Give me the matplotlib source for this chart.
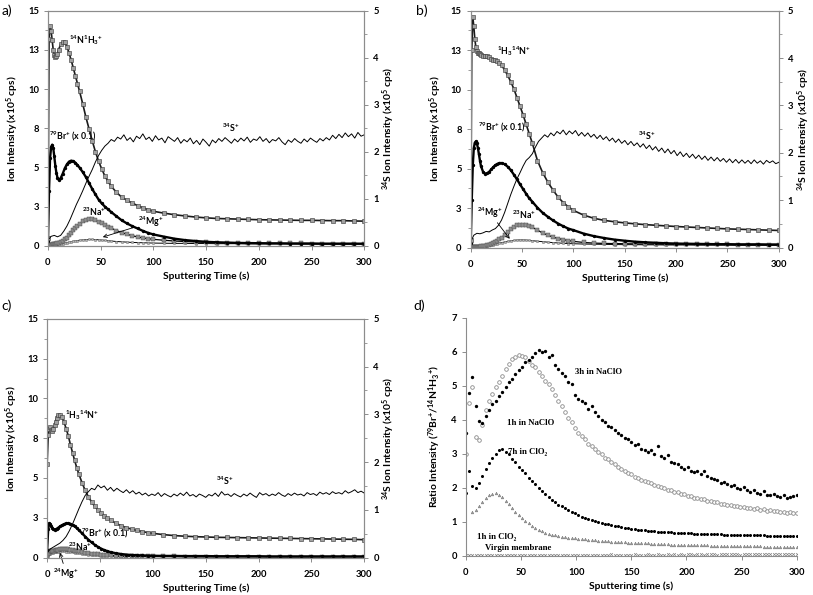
import matplotlib
matplotlib.use("Agg")
import matplotlib.pyplot as plt

plt.rcParams["font.family"] = ["Lato", "DejaVu Sans"]
plt.rcParams["mathtext.fontset"] = "custom"
plt.rcParams["mathtext.rm"] = "Lato:bold"
plt.rcParams["mathtext.it"] = "Lato:bold"
plt.rcParams["mathtext.bf"] = "Lato:bold"
plt.rcParams["mathtext.default"] = "rm"

# ── sampling times (s) ──────────────────────────────────────────────────────
T = [0, 1, 2, 3, 4, 5, 6, 7, 8, 9, 10, 12, 14, 16, 18, 20, 22, 24, 26, 28, 30,
     33, 36, 39, 42, 45, 48, 51, 54, 57, 60, 65, 70, 75, 80, 85, 90, 95, 100,
     110, 120, 130, 140, 150, 160, 170, 180, 190, 200, 210, 220, 230, 240, 250,
     260, 270, 280, 290, 300]
T3 = list(range(0, 301, 3))
T3_CLO2 = list(range(6, 301, 3))

# ── panel a (x1e5 cps) ──────────────────────────────────────────────────────
a_nh3 = [0.5, 13.2, 14.0, 13.7, 13.1, 12.5, 12.2, 12.05, 12.1, 12.25, 12.5,
         12.85, 13.0, 12.98, 12.7, 12.3, 11.85, 11.35, 10.85, 10.35, 9.85,
         9.05, 8.2, 7.45, 6.7, 6.0, 5.4, 4.9, 4.45, 4.1, 3.8,
         3.4, 3.1, 2.9, 2.72, 2.56, 2.42, 2.3, 2.2,
         2.08, 1.98, 1.9, 1.83, 1.78, 1.74, 1.72, 1.7, 1.68, 1.66, 1.65, 1.64,
         1.63, 1.62, 1.62, 1.61, 1.6, 1.6, 1.58, 1.57]
a_br = [0.3, 3.5, 5.6, 6.3, 6.45, 6.25, 5.7, 5.1, 4.65, 4.35, 4.22,
        4.3, 4.6, 4.95, 5.2, 5.37, 5.43, 5.4, 5.3, 5.15, 4.98,
        4.7, 4.38, 4.0, 3.62, 3.28, 2.95, 2.7, 2.5, 2.32, 2.15,
        1.88, 1.62, 1.42, 1.25, 1.1, 0.95, 0.82, 0.72,
        0.58, 0.45, 0.36, 0.3, 0.25, 0.22, 0.2, 0.18, 0.17, 0.16, 0.15, 0.15,
        0.14, 0.14, 0.14, 0.13, 0.13, 0.13, 0.13, 0.13]
a_na = [0.03, 0.04, 0.05, 0.06, 0.07, 0.08, 0.1, 0.11, 0.13, 0.15, 0.17,
        0.22, 0.3, 0.4, 0.52, 0.66, 0.82, 0.98, 1.13, 1.28, 1.4,
        1.55, 1.65, 1.7, 1.68, 1.62, 1.52, 1.42, 1.32, 1.22, 1.12,
        0.97, 0.84, 0.73, 0.64, 0.56, 0.5, 0.45, 0.41,
        0.35, 0.3, 0.27, 0.24, 0.22, 0.2, 0.19, 0.18, 0.17, 0.16, 0.16, 0.15,
        0.15, 0.15, 0.14, 0.14, 0.14, 0.14, 0.14, 0.13]
a_mg = [0.02, 0.02, 0.03, 0.03, 0.04, 0.04, 0.05, 0.06, 0.07, 0.08, 0.09,
        0.11, 0.14, 0.17, 0.2, 0.23, 0.26, 0.29, 0.31, 0.33, 0.35,
        0.37, 0.39, 0.4, 0.4, 0.39, 0.38, 0.36, 0.34, 0.32, 0.3,
        0.27, 0.25, 0.23, 0.21, 0.2, 0.19, 0.18, 0.17,
        0.16, 0.15, 0.15, 0.14, 0.14, 0.13, 0.13, 0.13, 0.12, 0.12, 0.12, 0.12,
        0.12, 0.11, 0.11, 0.11, 0.11, 0.11, 0.11, 0.11]
a_s34 = [0.12, 0.20, 0.22, 0.19, 0.22, 0.31, 0.42, 0.56, 0.72, 0.88,
         1.02, 1.17, 1.33, 1.48, 1.62, 1.78, 1.92, 2.03, 2.12, 2.18,
         2.26, 2.22, 2.31, 2.27, 2.36, 2.24, 2.30, 2.21, 2.33, 2.28,
         2.38, 2.26, 2.31, 2.22, 2.34, 2.25, 2.29, 2.19, 2.32, 2.27,
         2.22, 2.30, 2.18, 2.26, 2.21, 2.29, 2.17, 2.24, 2.15, 2.27,
         2.20, 2.12, 2.25, 2.19, 2.28, 2.22, 2.30, 2.24, 2.18, 2.27,
         2.21, 2.29, 2.23, 2.31, 2.20, 2.27, 2.24, 2.32, 2.22, 2.28,
         2.19, 2.26, 2.23, 2.30, 2.21, 2.15, 2.25, 2.20, 2.28, 2.22,
         2.18, 2.27, 2.21, 2.29, 2.24, 2.20, 2.28, 2.23, 2.30, 2.25,
         2.35, 2.28, 2.37, 2.30, 2.40, 2.32, 2.38, 2.29, 2.41, 2.33,
         2.36]

# ── panel b ─────────────────────────────────────────────────────────────────
b_nh3 = [0.5, 12.5, 14.6, 14.0, 13.2, 12.7, 12.45, 12.35, 12.3, 12.25, 12.2,
         12.15, 12.1, 12.1, 12.05, 11.95, 11.9, 11.85, 11.8, 11.7, 11.55,
         11.25, 10.9, 10.5, 10.05, 9.5, 8.95, 8.4, 7.8, 7.2, 6.6,
         5.5, 4.75, 4.15, 3.65, 3.2, 2.85, 2.58, 2.35,
         2.05, 1.85, 1.72, 1.63, 1.56, 1.5, 1.45, 1.41, 1.37, 1.33, 1.3, 1.27,
         1.24, 1.21, 1.18, 1.16, 1.14, 1.12, 1.1, 1.08]
b_br = [0.3, 3.0, 5.2, 6.3, 6.65, 6.72, 6.6, 6.3, 5.9, 5.5, 5.15,
        4.8, 4.68, 4.7, 4.8, 4.95, 5.1, 5.22, 5.3, 5.35, 5.35,
        5.28, 5.12, 4.9, 4.62, 4.32, 4.0, 3.7, 3.4, 3.12, 2.9,
        2.52, 2.2, 1.95, 1.72, 1.52, 1.35, 1.2, 1.1,
        0.88, 0.72, 0.6, 0.5, 0.43, 0.37, 0.33, 0.3, 0.27, 0.25, 0.24, 0.23,
        0.22, 0.21, 0.21, 0.2, 0.2, 0.2, 0.19, 0.19]
b_na = [0.02, 0.02, 0.03, 0.03, 0.03, 0.04, 0.04, 0.05, 0.05, 0.06, 0.07,
        0.09, 0.11, 0.14, 0.18, 0.23, 0.29, 0.36, 0.44, 0.53, 0.63,
        0.8, 0.98, 1.15, 1.3, 1.4, 1.45, 1.45, 1.42, 1.36, 1.28,
        1.1, 0.92, 0.78, 0.66, 0.57, 0.5, 0.44, 0.39,
        0.32, 0.28, 0.26, 0.25, 0.24, 0.23, 0.22, 0.22, 0.21, 0.21, 0.21, 0.2,
        0.2, 0.2, 0.2, 0.19, 0.19, 0.19, 0.19, 0.19]
b_mg = [0.02, 0.02, 0.02, 0.03, 0.03, 0.03, 0.04, 0.04, 0.05, 0.05, 0.06,
        0.07, 0.09, 0.11, 0.13, 0.16, 0.19, 0.22, 0.25, 0.28, 0.31,
        0.35, 0.39, 0.42, 0.45, 0.47, 0.48, 0.48, 0.47, 0.45, 0.43,
        0.4, 0.37, 0.34, 0.31, 0.29, 0.27, 0.25, 0.24,
        0.22, 0.21, 0.2, 0.19, 0.18, 0.18, 0.17, 0.17, 0.16, 0.16, 0.16, 0.15,
        0.15, 0.15, 0.15, 0.14, 0.14, 0.14, 0.14, 0.14]
b_s34 = [0.12, 0.26, 0.30, 0.29, 0.31, 0.34, 0.33, 0.37, 0.40, 0.47,
         0.58, 0.74, 0.93, 1.12, 1.29, 1.45, 1.58, 1.72, 1.84, 1.90,
         1.98, 2.12, 2.24, 2.31, 2.38, 2.33, 2.42, 2.36, 2.45, 2.40,
         2.48, 2.38, 2.46, 2.40, 2.47, 2.36, 2.43, 2.35, 2.42, 2.33,
         2.39, 2.30, 2.37, 2.28, 2.34, 2.25, 2.31, 2.22, 2.29, 2.20,
         2.26, 2.17, 2.24, 2.15, 2.21, 2.12, 2.19, 2.09, 2.16, 2.06,
         2.13, 2.03, 2.10, 2.00, 2.08, 1.98, 2.05, 1.94, 2.02, 1.92,
         1.99, 1.90, 1.97, 1.88, 1.95, 1.86, 1.93, 1.84, 1.91, 1.83,
         1.90, 1.82, 1.88, 1.80, 1.87, 1.79, 1.86, 1.78, 1.85, 1.78,
         1.84, 1.77, 1.85, 1.78, 1.83, 1.76, 1.84, 1.79, 1.83, 1.77,
         1.80]

# ── panel c ─────────────────────────────────────────────────────────────────
c_nh3 = [5.9, 7.7, 8.1, 8.2, 8.0, 7.95, 8.05, 8.3, 8.55, 8.8, 8.95,
         8.98, 8.85, 8.5, 8.1, 7.65, 7.1, 6.6, 6.1, 5.65, 5.25,
         4.7, 4.22, 3.82, 3.5, 3.22, 3.0, 2.8, 2.62, 2.47, 2.35,
         2.15, 2.0, 1.88, 1.78, 1.7, 1.63, 1.57, 1.52,
         1.44, 1.38, 1.34, 1.31, 1.29, 1.27, 1.26, 1.25, 1.24, 1.23, 1.22, 1.21,
         1.2, 1.19, 1.18, 1.17, 1.16, 1.15, 1.14, 1.12]
c_br = [0.5, 1.8, 2.15, 2.1, 1.95, 1.85, 1.78, 1.75, 1.77, 1.8, 1.85,
        1.95, 2.03, 2.1, 2.14, 2.15, 2.12, 2.05, 1.96, 1.85, 1.72,
        1.52, 1.32, 1.12, 0.95, 0.8, 0.67, 0.56, 0.47, 0.4, 0.34,
        0.27, 0.22, 0.18, 0.16, 0.14, 0.13, 0.12, 0.11,
        0.1, 0.1, 0.09, 0.09, 0.09, 0.08, 0.08, 0.08, 0.08, 0.08, 0.07, 0.07,
        0.07, 0.07, 0.07, 0.07, 0.07, 0.07, 0.07, 0.07]
c_na = [0.1, 0.2, 0.3, 0.38, 0.42, 0.43, 0.43, 0.44, 0.45, 0.47, 0.49,
        0.52, 0.54, 0.55, 0.55, 0.53, 0.5, 0.47, 0.44, 0.41, 0.38,
        0.34, 0.3, 0.27, 0.24, 0.21, 0.19, 0.17, 0.15, 0.14, 0.13,
        0.11, 0.1, 0.09, 0.09, 0.08, 0.08, 0.08, 0.07,
        0.07, 0.07, 0.06, 0.06, 0.06, 0.06, 0.06, 0.06, 0.06, 0.06, 0.05, 0.05,
        0.05, 0.05, 0.05, 0.05, 0.05, 0.05, 0.05, 0.05]
c_mg = [0.05, 0.12, 0.2, 0.25, 0.28, 0.3, 0.31, 0.32, 0.33, 0.34, 0.35,
        0.37, 0.38, 0.38, 0.37, 0.36, 0.34, 0.32, 0.3, 0.28, 0.26,
        0.23, 0.2, 0.18, 0.16, 0.14, 0.13, 0.12, 0.11, 0.1, 0.09,
        0.08, 0.07, 0.07, 0.06, 0.06, 0.06, 0.05, 0.05,
        0.05, 0.05, 0.05, 0.04, 0.04, 0.04, 0.04, 0.04, 0.04, 0.04, 0.04, 0.04,
        0.04, 0.04, 0.04, 0.04, 0.04, 0.04, 0.04, 0.04]
c_s34 = [0.10, 0.18, 0.22, 0.26, 0.30, 0.36, 0.44, 0.56, 0.70, 0.86,
         1.02, 1.17, 1.30, 1.38, 1.45, 1.42, 1.52, 1.46, 1.50, 1.41,
         1.47, 1.39, 1.45, 1.40, 1.36, 1.42, 1.35, 1.40, 1.33, 1.37,
         1.31, 1.35, 1.29, 1.33, 1.30, 1.36, 1.28, 1.34, 1.30, 1.27,
         1.33, 1.29, 1.35, 1.30, 1.37, 1.29, 1.32, 1.27, 1.33, 1.30,
         1.26, 1.32, 1.29, 1.35, 1.28, 1.38, 1.31, 1.33, 1.28, 1.34,
         1.30, 1.27, 1.33, 1.29, 1.35, 1.30, 1.26, 1.36, 1.31, 1.34,
         1.29, 1.33, 1.30, 1.36, 1.31, 1.28, 1.34, 1.30, 1.35, 1.31,
         1.33, 1.29, 1.36, 1.32, 1.34, 1.30, 1.37, 1.33, 1.36, 1.32,
         1.38, 1.34, 1.36, 1.33, 1.40, 1.35, 1.38, 1.42, 1.36, 1.39,
         1.35]

# ── panel d: 79Br+/14N1H3+ ratio ────────────────────────────────────────────
d_3h_naclo = [3.6, 4.8, 5.25, 4.4, 3.95, 3.9, 4.1, 4.3, 4.45, 4.55,
              4.7, 4.82, 4.95, 5.1, 5.2, 5.35, 5.45, 5.55, 5.7, 5.75,
              5.85, 5.95, 6.05, 5.98, 6.02, 5.85, 5.9, 5.62, 5.5, 5.38,
              5.3, 5.12, 5.05, 4.72, 4.6, 4.55, 4.48, 4.32, 4.4, 4.22,
              4.1, 4.0, 3.92, 3.82, 3.78, 3.7, 3.62, 3.55, 3.45, 3.42,
              3.35, 3.25, 3.3, 3.15, 3.12, 3.05, 3.1, 2.98, 3.22, 2.92,
              2.88, 2.95, 2.75, 2.72, 2.7, 2.6, 2.55, 2.62, 2.5, 2.45,
              2.48, 2.4, 2.5, 2.35, 2.3, 2.25, 2.22, 2.15, 2.18, 2.1,
              2.05, 2.08, 1.98, 1.95, 2.02, 1.92, 1.88, 1.92, 1.85, 1.82,
              1.9, 1.8, 1.78, 1.83, 1.75, 1.72, 1.78, 1.7, 1.73, 1.76,
              1.8]
d_1h_naclo = [3.0, 4.5, 4.95, 3.5, 3.4, 3.85, 4.3, 4.55, 4.75, 4.95,
              5.12, 5.3, 5.5, 5.65, 5.8, 5.85, 5.9, 5.88, 5.85, 5.72,
              5.62, 5.55, 5.4, 5.3, 5.15, 5.05, 4.9, 4.72, 4.55, 4.4,
              4.22, 4.05, 3.92, 3.75, 3.62, 3.52, 3.42, 3.3, 3.24, 3.13,
              3.05, 2.99, 2.88, 2.84, 2.75, 2.71, 2.6, 2.56, 2.5, 2.44,
              2.4, 2.33, 2.29, 2.24, 2.21, 2.16, 2.13, 2.08, 2.06, 2.01,
              1.99, 1.94, 1.93, 1.88, 1.87, 1.82, 1.81, 1.77, 1.77, 1.71,
              1.71, 1.67, 1.67, 1.61, 1.61, 1.57, 1.57, 1.53, 1.53, 1.49,
              1.5, 1.47, 1.47, 1.44, 1.44, 1.41, 1.41, 1.37, 1.39, 1.35,
              1.36, 1.33, 1.34, 1.31, 1.31, 1.29, 1.3, 1.27, 1.28, 1.26,
              1.27]
d_7h_clo2 = [1.85, 2.5, 2.05, 2.0, 2.15, 2.35, 2.55, 2.72, 2.88, 3.0,
             3.12, 3.15, 3.05, 2.98, 2.85, 2.75, 2.62, 2.52, 2.42, 2.3,
             2.2, 2.1, 2.0, 1.9, 1.82, 1.72, 1.65, 1.58, 1.5, 1.45,
             1.4, 1.35, 1.3, 1.25, 1.2, 1.15, 1.12, 1.08, 1.05, 1.02,
             0.98, 0.96, 0.93, 0.92, 0.9, 0.88, 0.86, 0.84, 0.82, 0.81,
             0.8, 0.78, 0.77, 0.76, 0.75, 0.74, 0.73, 0.72, 0.71, 0.71,
             0.7, 0.69, 0.69, 0.68, 0.68, 0.67, 0.67, 0.66, 0.66, 0.65,
             0.65, 0.65, 0.64, 0.64, 0.64, 0.63, 0.63, 0.63, 0.62, 0.62,
             0.62, 0.62, 0.61, 0.61, 0.61, 0.61, 0.6, 0.6, 0.6, 0.6,
             0.6, 0.59, 0.59, 0.59, 0.59, 0.58, 0.58, 0.58, 0.58, 0.57,
             0.57]
d_1h_clo2 = [1.3, 1.35, 1.45, 1.58, 1.7, 1.78, 1.83, 1.85, 1.8, 1.72,
             1.62, 1.52, 1.4, 1.3, 1.2, 1.1, 1.02, 0.95, 0.88, 0.82,
             0.77, 0.72, 0.68, 0.65, 0.62, 0.6, 0.58, 0.56, 0.54, 0.53,
             0.52, 0.51, 0.5, 0.49, 0.48, 0.47, 0.46, 0.45, 0.44, 0.43,
             0.42, 0.42, 0.41, 0.4, 0.4, 0.39, 0.39, 0.38, 0.38, 0.37,
             0.37, 0.37, 0.36, 0.36, 0.35, 0.35, 0.35, 0.34, 0.34, 0.34,
             0.33, 0.33, 0.33, 0.33, 0.32, 0.32, 0.32, 0.32, 0.31, 0.31,
             0.31, 0.31, 0.3, 0.3, 0.3, 0.3, 0.3, 0.29, 0.29, 0.29,
             0.29, 0.29, 0.28, 0.28, 0.28, 0.28, 0.28, 0.28, 0.27, 0.27,
             0.27, 0.27, 0.27, 0.27, 0.26, 0.26, 0.26, 0.26, 0.26]
d_virgin = [0.02, 0.03, 0.02, 0.03, 0.03, 0.02, 0.03, 0.03, 0.02, 0.03,
            0.03, 0.02, 0.03, 0.03, 0.03, 0.02, 0.03, 0.03, 0.03, 0.02,
            0.03, 0.03, 0.02, 0.03, 0.03, 0.03, 0.03, 0.02, 0.03, 0.03,
            0.03, 0.03, 0.03, 0.02, 0.03, 0.03, 0.03, 0.03, 0.03, 0.03,
            0.03, 0.03, 0.03, 0.03, 0.04, 0.03, 0.03, 0.03, 0.03, 0.03,
            0.03, 0.04, 0.03, 0.03, 0.03, 0.04, 0.03, 0.03, 0.04, 0.03,
            0.03, 0.04, 0.03, 0.04, 0.03, 0.04, 0.03, 0.04, 0.04, 0.03,
            0.04, 0.04, 0.03, 0.04, 0.04, 0.04, 0.03, 0.04, 0.04, 0.04,
            0.04, 0.04, 0.04, 0.03, 0.04, 0.04, 0.04, 0.04, 0.04, 0.04,
            0.04, 0.04, 0.04, 0.04, 0.04, 0.04, 0.04, 0.04, 0.04, 0.04,
            0.04]

X_TICKS = [0, 50, 100, 150, 200, 250, 300]
ION_TICKS = [0, 2.5, 5, 7.5, 10, 12.5, 15]
ION_TICKLABELS = ["0", "3", "5", "8", "10", "13", "15"]
S_TICKS = [0, 1, 2, 3, 4, 5]
RATIO_TICKS = [0, 1, 2, 3, 4, 5, 6, 7]

SPINE_C = "#8c8c8c"
TICK_FS = 6.8
LABEL_FS = 7.4


def style_axis(ax, ticks_y, labels_y=None):
    ax.set_xlim(0, 300)
    ax.set_xticks(X_TICKS)
    ax.set_yticks(ticks_y)
    if labels_y is not None:
        ax.set_yticklabels(labels_y)
    for lab in ax.get_xticklabels() + ax.get_yticklabels():
        lab.set_fontweight("bold")
    ax.tick_params(which="major", direction="out", length=3, width=0.7,
                   color=SPINE_C, labelsize=TICK_FS)
    ax.tick_params(axis="x", pad=6)
    for sp in ax.spines.values():
        sp.set_color(SPINE_C)
        sp.set_linewidth(0.8)


def ion_panel(ax, nh3, br, na, mg, s34):
    ax.plot(T, mg, color="black", lw=0.7, marker="o", ms=1.8,
            mfc="#b5b5b5", mec="#6e6e6e", mew=0.3, zorder=2)
    ax.plot(T, na, color="black", lw=0.9, marker="s", ms=2.2,
            mfc="#909090", mec="#404040", mew=0.3, zorder=3)
    ax.plot(T, br, color="black", lw=1.7, marker="o", ms=1.4,
            mfc="black", mec="black", zorder=4)
    ax.plot(T, nh3, color="#1a1a1a", lw=1.2, marker="s", ms=2.8,
            mfc="#a0a0a0", mec="#333333", mew=0.4, zorder=5)
    ax.set_ylim(0, 15)
    style_axis(ax, ION_TICKS, ION_TICKLABELS)
    ax.set_yticks([1.25, 3.75, 6.25, 8.75, 11.25, 13.75], minor=True)
    ax.tick_params(which="minor", axis="y", direction="out", length=2,
                   width=0.6, color=SPINE_C)
    ax.set_xlabel("Sputtering Time (s)", fontsize=LABEL_FS,
                  fontweight="bold", labelpad=3)
    ax.set_ylabel("Ion Intensity (x10$^5$ cps)", fontsize=LABEL_FS,
                  fontweight="bold", labelpad=5)

    ax2 = ax.twinx()
    ax2.plot(T3, s34, color="black", lw=0.7)
    ax2.set_ylim(0, 5)
    ax2.set_yticks(S_TICKS)
    ax2.set_yticks([0.5, 1.5, 2.5, 3.5, 4.5], minor=True)
    for lab in ax2.get_yticklabels():
        lab.set_fontweight("bold")
    ax2.tick_params(which="major", direction="out", length=3, width=0.7,
                    color=SPINE_C, labelsize=TICK_FS)
    ax2.tick_params(which="minor", direction="out", length=2, width=0.6,
                    color=SPINE_C)
    for sp in ax2.spines.values():
        sp.set_color(SPINE_C)
        sp.set_linewidth(0.8)
    ax2.set_ylabel("$^{34}$S Ion Intensity (x10$^5$ cps)", fontsize=LABEL_FS,
                   fontweight="bold", labelpad=1.5)
    return ax2


fig = plt.figure(figsize=(8.13, 5.95), dpi=100)
ax_a = fig.add_axes([0.059, 0.587, 0.389, 0.395])
ax_b = fig.add_axes([0.579, 0.584, 0.379, 0.398])
ax_c = fig.add_axes([0.058, 0.063, 0.390, 0.401])
ax_d = fig.add_axes([0.573, 0.066, 0.407, 0.400])

ANN = dict(fontsize=6.3, fontweight="bold", va="center")
ARROW = dict(arrowstyle="->", lw=0.6, color="black", shrinkA=0, shrinkB=0)

# (a)
ion_panel(ax_a, a_nh3, a_br, a_na, a_mg, a_s34)
ax_a.text(20, 13.1, "$^{14}$N$^{1}$H$_3$$^{+}$", ha="left", **ANN)
ax_a.text(0.8, 7.0, "$^{79}$Br$^{+}$ (x 0.1)", ha="left", **ANN)
ax_a.text(32, 2.15, "$^{23}$Na$^{+}$", ha="left", **ANN)
ax_a.annotate("$^{24}$Mg$^{+}$", xy=(52, 0.55), xytext=(85, 1.5),
              ha="left", arrowprops=ARROW, **ANN)
ax_a.text(165, 7.55, "$^{34}$S$^{+}$", ha="left", **ANN)

# (b)
ion_panel(ax_b, b_nh3, b_br, b_na, b_mg, b_s34)
ax_b.text(26, 12.45, "$^{1}$H$_3$$^{14}$N$^{+}$", ha="left", **ANN)
ax_b.text(7, 7.6, "$^{79}$Br$^{+}$ (x 0.1)", ha="left", **ANN)
ax_b.text(40, 2.05, "$^{23}$Na$^{+}$", ha="left", **ANN)
ax_b.annotate("$^{24}$Mg$^{+}$", xy=(38, 0.55), xytext=(6, 2.2),
              ha="left", arrowprops=ARROW, **ANN)
ax_b.text(163, 7.1, "$^{34}$S$^{+}$", ha="left", **ANN)

# (c)
ion_panel(ax_c, c_nh3, c_br, c_na, c_mg, c_s34)
ax_c.text(17, 8.95, "$^{1}$H$_3$$^{14}$N$^{+}$", ha="left", **ANN)
ax_c.text(32, 1.55, "$^{79}$Br$^{+}$ (x 0.1)", ha="left", **ANN)
ax_c.text(20, 0.68, "$^{23}$Na$^{+}$", ha="left", **ANN)
ax_c.annotate("$^{24}$Mg$^{+}$", xy=(12, 0.3), xytext=(6, -1.0),
              ha="left", arrowprops=ARROW, annotation_clip=False, **ANN)
ax_c.text(160, 4.8, "$^{34}$S$^{+}$", ha="left", **ANN)

# (d)
ax_d.plot(T3, d_virgin, ls="none", marker="x", ms=2.0, mew=0.5,
          color="#808080")
ax_d.plot(T3_CLO2, d_1h_clo2, ls="none", marker="^", ms=2.0, mew=0.3,
          mfc="#9a9a9a", mec="#707070")
ax_d.plot(T3, d_7h_clo2, ls="none", marker="o", ms=2.2, mew=0,
          color="black")
ax_d.plot(T3, d_1h_naclo, ls="none", marker="o", ms=2.6, mew=0.6,
          mfc="white", mec="#8a8a8a")
ax_d.plot(T3, d_3h_naclo, ls="none", marker="o", ms=2.4, mew=0,
          color="black")
ax_d.set_ylim(0, 7)
style_axis(ax_d, RATIO_TICKS)
ax_d.spines["top"].set_visible(False)
ax_d.spines["right"].set_visible(False)
ax_d.set_xlabel("Sputtering time (s)", fontsize=LABEL_FS, fontweight="bold",
                labelpad=3)
ax_d.set_ylabel("Ratio Intensity ($^{79}$Br$^{+}$/$^{14}$N$^{1}$H$_3$$^{+}$)",
                fontsize=LABEL_FS, fontweight="bold", labelpad=6)

SERIF = dict(fontsize=6.3, fontweight="bold", va="center", ha="left",
             family=["Liberation Serif", "DejaVu Serif"])
ax_d.text(99, 5.41, "3h in NaClO", **SERIF)
ax_d.text(37, 3.89, "1h in NaClO", **SERIF)
ax_d.text(38, 3.06, "7h in ClO\u2082", **SERIF)
ax_d.text(10, 0.55, "1h in ClO\u2082", **SERIF)
ax_d.text(17, 0.22, "Virgin membrane", **SERIF)

# panel letters
for (x, y), letter in zip([(0.002, 0.992), (0.512, 0.992),
                           (0.002, 0.497), (0.509, 0.497)],
                          ["a)", "b)", "c)", "d)"]):
    fig.text(x, y, letter, fontsize=10, va="top", ha="left")

fig.savefig("out.png", dpi=100)
